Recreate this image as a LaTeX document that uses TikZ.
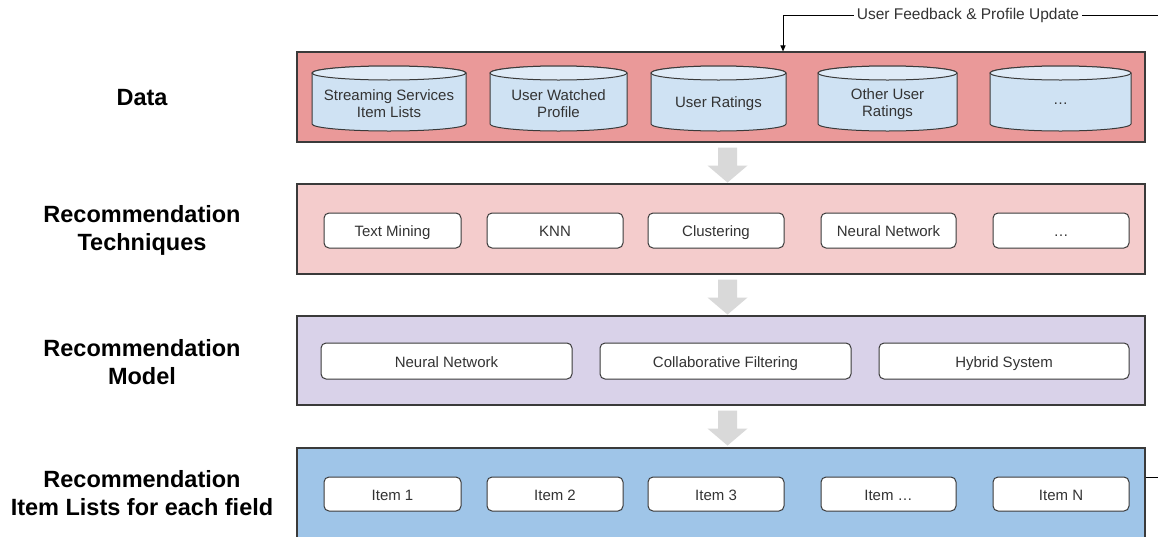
\documentclass[tikz,border=0pt]{standalone}
\usepackage{fontspec}
\setmainfont{Liberation Sans}
\usetikzlibrary{calc,arrows.meta}

\definecolor{bandred}{HTML}{EA9999}
\definecolor{bandpink}{HTML}{F4CCCC}
\definecolor{bandlilac}{HTML}{D9D2E9}
\definecolor{bandblue}{HTML}{9FC5E8}
\definecolor{cylbody}{HTML}{CFE2F3}
\definecolor{cyltop}{HTML}{DFEBF7}
\definecolor{edgegray}{HTML}{3A3A3A}
\definecolor{flowgray}{HTML}{D9D9D9}
\definecolor{inkgray}{HTML}{333333}

\tikzset{
  band/.style={draw=edgegray, line width=1.1pt, minimum width=848pt,
    minimum height=90pt, inner sep=0pt},
  tbox/.style={draw=edgegray, fill=white, rounded corners=5pt, line width=1pt,
    inner sep=0pt, font=\fontsize{15}{17}\selectfont, text=inkgray,
    text height=12pt, text depth=0pt},
  cylshape/.style={draw=edgegray, line width=1pt},
  cyltext/.style={inner sep=0pt, align=center, text=inkgray,
    font=\fontsize{15}{17}\selectfont},
  sidelabel/.style={align=center, font=\bfseries\fontsize{23.5}{28}\selectfont},
  fbline/.style={draw=black, line width=1pt},
  flowfill/.style={fill=flowgray},
}

% database cylinder: name, centre x, width, text
\newcommand\dbcyl[4]{%
  \filldraw[cylshape, fill=cylbody]
    ({#2-#3/2},73) -- ({#2-#3/2},124)
    arc[start angle=180, end angle=360, x radius={#3*0.5pt}, y radius=7pt]
    -- ({#2+#3/2},73)
    arc[start angle=0, end angle=180, x radius={#3*0.5pt}, y radius=7pt]
    -- cycle;
  \filldraw[cylshape, fill=cyltop] (#2,73)
    ellipse[x radius={#3*0.5pt}, y radius=7pt];
  \node[cyltext] (#1) at (#2,104) {#4};
}

% grey block arrow between two stacked bands
\newcommand\flowarrow[2]{%
  \fill[flowfill] ($(#1.south)+(-3,5)$) -- ++(19,0) -- ++(0,18) -- ++(10.5,0)
    -- ++(-20,17) -- ++(-20,-17) -- ++(10.5,0) -- cycle;
}

\begin{document}
\begin{tikzpicture}[x=1pt, y=-1pt]
\clip (0,0) rectangle (1158,536);
\fill[white] (0,0) rectangle (1158,536);

% side labels
\node[sidelabel] (ldata)  at (142,98)  {Data};
\node[sidelabel] (ltech)  at (142,230) {Recommendation\\Techniques};
\node[sidelabel] (lmodel) at (142,362) {Recommendation\\Model};
\node[sidelabel] (litems) at (142,493) {Recommendation\\Item Lists for each field};

% bands
\node[band, fill=bandred]   (data)  at (721,97)    {};
\node[band, fill=bandpink]  (tech)  at (721,229)   {};
\node[band, fill=bandlilac, minimum height=89pt] (model) at (721,360.5) {};
\node[band, fill=bandblue]  (items) at (721,493)   {};

% data sources
\dbcyl{d1}{389}{154}{Streaming Services\\Item Lists}
\dbcyl{d2}{558.5}{137}{User Watched\\Profile}
\dbcyl{d3}{718.5}{135}{User Ratings}
\dbcyl{d4}{887.5}{139}{Other User\\Ratings}
\dbcyl{d5}{1060.5}{141}{…}

% techniques
\node[tbox, minimum width=137pt, minimum height=35pt] (t1) at (392.5,230.5) {Text Mining};
\node[tbox, minimum width=136pt, minimum height=35pt] (t2) at (555,230.5)   {KNN};
\node[tbox, minimum width=136pt, minimum height=35pt] (t3) at (716,230.5)   {Clustering};
\node[tbox, minimum width=135pt, minimum height=35pt] (t4) at (888.5,230.5) {Neural Network};
\node[tbox, minimum width=136pt, minimum height=35pt] (t5) at (1061,230.5)  {…};

% models
\node[tbox, minimum width=251pt, minimum height=36pt] (m1) at (446.5,361) {Neural Network};
\node[tbox, minimum width=251pt, minimum height=36pt] (m2) at (725.5,361) {Collaborative Filtering};
\node[tbox, minimum width=250pt, minimum height=36pt] (m3) at (1004,361)  {Hybrid System};

% item lists
\node[tbox, minimum width=137pt, minimum height=34pt] (i1) at (392.5,494) {Item 1};
\node[tbox, minimum width=136pt, minimum height=34pt] (i2) at (555,494)   {Item 2};
\node[tbox, minimum width=136pt, minimum height=34pt] (i3) at (716,494)   {Item 3};
\node[tbox, minimum width=135pt, minimum height=34pt] (i4) at (888.5,494) {Item …};
\node[tbox, minimum width=136pt, minimum height=34pt] (i5) at (1061,494)  {Item N};

% flow between bands
\flowarrow{data}{tech}
\flowarrow{tech}{model}
\flowarrow{model}{items}

% feedback loop
\coordinate (fbin)  at (1158,15);
\coordinate (fbout) at (1158,477);
\coordinate (fbx)   at (783,0);
\draw[fbline] (fbout -| items.east) -- (fbout);
\draw[fbline, -{Triangle[length=6pt, width=5pt]}]
  (fbin) -- (fbin -| fbx) -- (fbx |- data.north);
\node[fill=white, inner sep=3pt, text=inkgray, font=\fontsize{15.5}{17}\selectfont]
  (fblabel) at (968,15) {User Feedback \& Profile Update};
\end{tikzpicture}
\end{document}
